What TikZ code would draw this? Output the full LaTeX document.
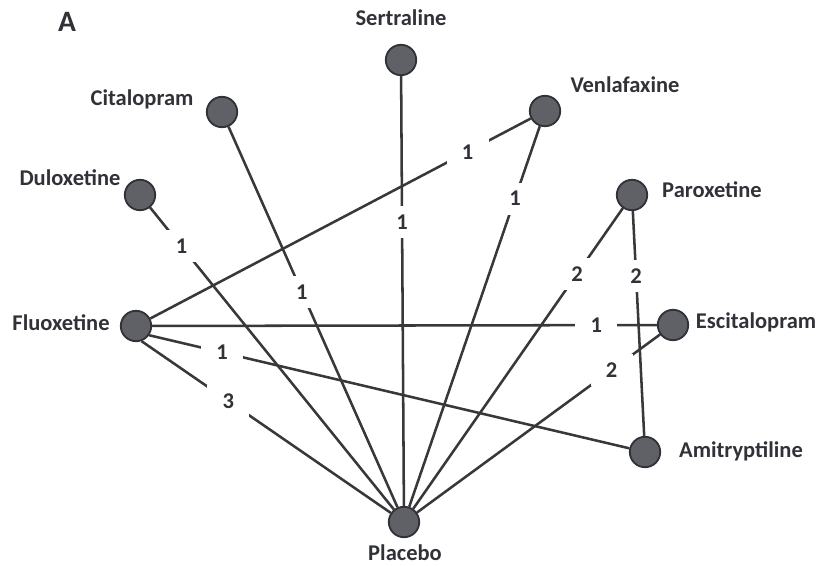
\documentclass[tikz,border=0pt]{standalone}
\usepackage{fontspec}
\setmainfont{Carlito}
\usetikzlibrary{positioning}
\definecolor{ink}{HTML}{303238}
\definecolor{wire}{HTML}{38383A}
\definecolor{dot}{HTML}{606166}
\newcommand{\GapW}{1.05cm}
\newcommand{\GapH}{0.8cm}

\begin{document}
\begin{tikzpicture}[
    x=0.025cm, y=-0.025cm,
    font=\bfseries\fontsize{16}{19}\selectfont, ink,
    drug/.style={circle, draw=ink, line width=1.3pt, fill=dot, minimum size=0.76cm, inner sep=0pt},
    drugname/.style={anchor=mid, inner sep=0pt, text=ink},
    edge/.style={draw=wire, line width=1.8pt},
    trials/.style={fill=white, inner sep=0pt, minimum width=\GapW, minimum height=\GapH, text=ink},
  ]
\useasboundingbox (0,0) rectangle (819,565);

% --- Panel letter --------------------------------------------------------------
\node[font=\bfseries\fontsize{21}{24}\selectfont, anchor=mid] (panel) at (67,28) {A};

% --- Treatments ------------------------------------------------------------------
\foreach \id/\x/\y in {flu/136/326, dul/140/195, cit/222/112, ser/401/60, ven/545/111,
                       par/632/195, esc/673/325, ami/645/452, pla/404/522} {
  \node[drug] (\id) at (\x,\y) {};
}

% --- Comparisons, with the number of trials --------------------------------------
\foreach \a/\b/\p/\n in {flu/ven/0.834/1, dul/pla/0.129/1, cit/pla/0.434/1, ser/pla/0.340/1,
                         ven/pla/0.190/1, par/pla/0.218/2, par/ami/0.290/2, flu/esc/0.880/1,
                         esc/pla/0.199/2, flu.-35/ami/0.152/1, flu.-70/pla/0.348/3} {
  \draw[edge] (\a) -- (\b) node[trials, pos=\p] {\n};
}

% --- Names -------------------------------------------------------------------------
\foreach \id/\x/\y/\what in {flu/61/327/Fluoxetine, dul/70/182/Duloxetine, cit/142/102/Citalopram,
                             ser/401/22/Sertraline, ven/625/89/Venlafaxine, par/712/194/Paroxetine,
                             esc/756/325/Escitalopram, ami/741/454/Amitryptiline, pla/405/557/Placebo} {
  \node[drugname] (name\id) at (\x,\y) {\what};
}

\end{tikzpicture}
\end{document}
